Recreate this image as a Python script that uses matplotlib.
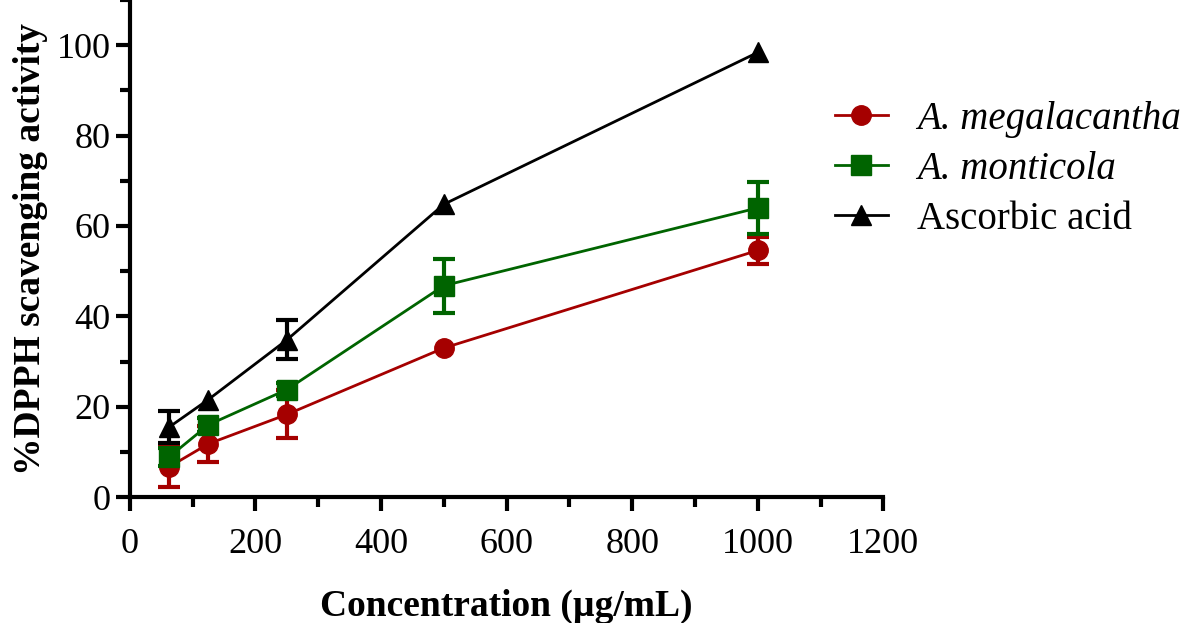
import numpy as np
import matplotlib.pyplot as plt
from matplotlib.ticker import MultipleLocator
from matplotlib.lines import Line2D

plt.rcParams['font.family'] = ['Liberation Serif', 'DejaVu Serif']

conc = [62.5, 125, 250, 500, 1000]

megalacantha = [6.7, 11.8, 18.3, 33.0, 54.6]
megalacantha_err = [4.5, 4.0, 5.3, np.nan, 3.0]

monticola = [8.9, 16.0, 23.8, 46.8, 64.0]
monticola_err = [2.0, 1.5, 1.5, 6.0, 5.7]

ascorbic = [15.5, 21.6, 34.8, 64.8, 98.4]
ascorbic_err = [3.5, np.nan, 4.3, np.nan, np.nan]

labels = ['A. megalacantha', 'A. monticola', 'Ascorbic acid']
colors = ['#A50000', '#006400', 'black']
markers = ['o', 's', '^']

fig = plt.figure(figsize=(11.81, 6.23), dpi=100)
ax = fig.add_axes([0.110, 0.202, 0.638, 0.798])

handles = []
for vals, err, col, mk in zip([megalacantha, monticola, ascorbic],
                              [megalacantha_err, monticola_err, ascorbic_err],
                              colors, markers):
    ax.errorbar(conc, vals, yerr=err, color=col, marker=mk, markersize=14,
                linewidth=2, elinewidth=3, capsize=8, capthick=3)
    handles.append(Line2D([], [], color=col, marker=mk, markersize=14, linewidth=2))

ax.set_xlim(0, 1200)
ax.set_ylim(0, 110)
ax.xaxis.set_major_locator(MultipleLocator(200))
ax.xaxis.set_minor_locator(MultipleLocator(100))
ax.yaxis.set_major_locator(MultipleLocator(20))
ax.yaxis.set_minor_locator(MultipleLocator(10))
for s in ['top', 'right']:
    ax.spines[s].set_visible(False)
for s in ['left', 'bottom']:
    ax.spines[s].set_linewidth(3)
ax.tick_params(which='major', length=10, width=3, labelsize=26, direction='out')
ax.tick_params(axis='x', pad=12)
ax.tick_params(axis='y', pad=4)
ax.tick_params(which='minor', length=7, width=3)

ax.set_xlabel('Concentration (µg/mL)', fontsize=27, fontweight='bold', labelpad=20)
ax.set_ylabel('%DPPH scavenging activity', fontsize=27, fontweight='bold', labelpad=6)

leg = fig.legend(handles, labels, loc='upper left',
                 bbox_to_anchor=(835 / 1181, 1 - 101 / 623), frameon=False,
                 fontsize=28, handlelength=1.35, handletextpad=0.75,
                 labelspacing=0.33, borderpad=0, borderaxespad=0)
for t in leg.get_texts()[:2]:
    t.set_fontstyle('italic')

fig.savefig('out.png', dpi=100)
